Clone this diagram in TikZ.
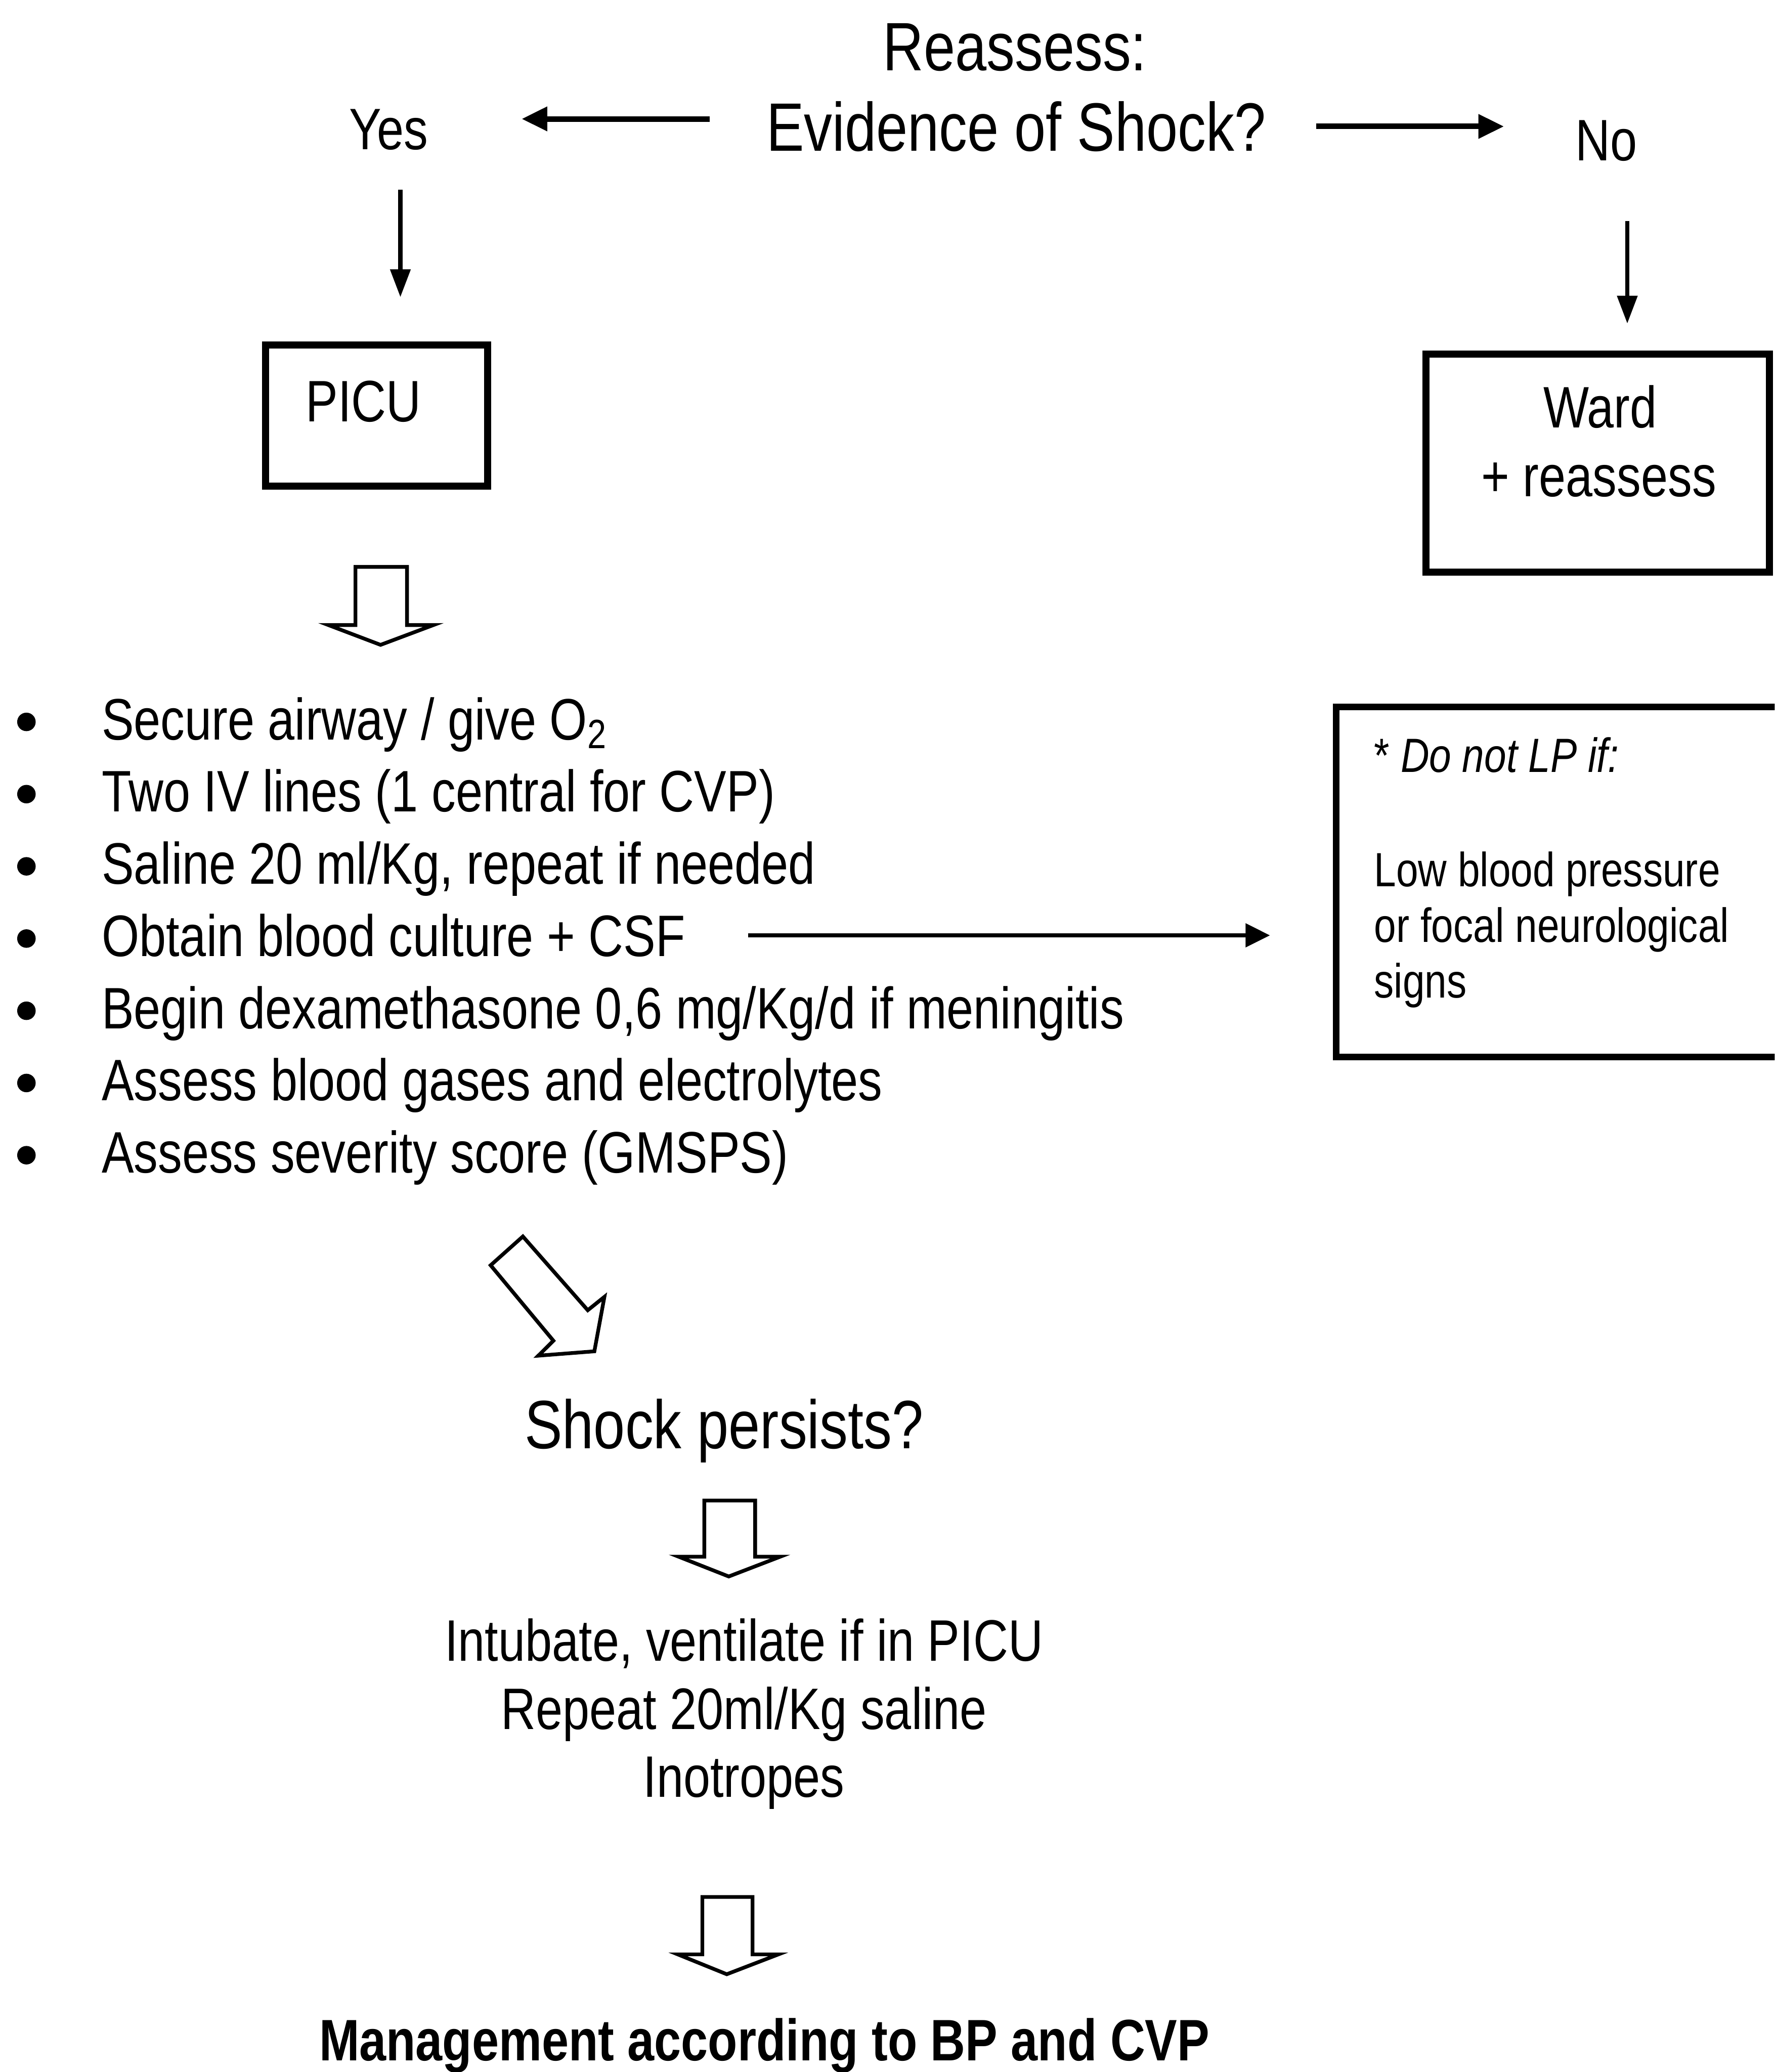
\documentclass[tikz,border=0pt]{standalone}
\usepackage{fontspec}
\setmainfont{Liberation Sans}[FakeStretch=0.825]
\usetikzlibrary{arrows.meta}
\begin{document}
\begin{tikzpicture}[x=0.02cm,y=-0.02cm,
 tx/.style={inner sep=0pt, outer sep=0pt},
 ftitle/.style={font=\fontsize{29.5}{35}\selectfont},
 fmain/.style={font=\fontsize{25.2}{30}\selectfont},
 fnote/.style={font=\fontsize{20.7}{25}\selectfont},
 fbold/.style={font=\fontsize{25.2}{30}\selectfont\bfseries},
 bx/.style={draw, line width=3pt, inner sep=0pt},
 notebox/.style={draw, line width=2.8pt, inner sep=0pt},
 blockarr/.style={draw, line width=1.6pt, line join=miter, fill=white},
 toparr/.style={line width=2.4pt, -{Triangle[length=11pt,width=10pt]}},
 downarr/.style={line width=1.8pt, -{Triangle[length=12pt,width=8.5pt]}},
 sidearr/.style={line width=1.6pt, -{Triangle[length=10.5pt,width=10pt]}},
 bul/.style={circle, fill, inner sep=0pt, minimum size=0.28cm}]
\useasboundingbox (0,0) rectangle (1343,1568);
\clip (0,0) rectangle (1343,1568);
\fill[white] (0,0) rectangle (1343,1568);

% top question
\node[tx,ftitle,anchor=base] (reassess) at (768,53.5) {Reassess:};
\node[tx,ftitle,anchor=base] (ev) at (769,114.2) {Evidence of Shock?};
\node[tx,fmain,anchor=base] (yes) at (294,113.3) {Yes};
\node[tx,fmain,anchor=base] (no) at (1215.5,121.4) {No};

\draw[toparr, shorten <=0.86cm, shorten >=1.42cm] ([yshift=0.114cm]ev.west) -- ([yshift=0.114cm]ev.west -| yes.east);
\draw[toparr, shorten <=0.76cm, shorten >=1.08cm] (ev.east) -- (ev.east -| no.west);

% boxes
\node[bx, minimum width=3.36cm, minimum height=2.14cm] (picu) at (285,314.5) {};
\node[tx,fmain] (picut) at (275,304) {PICU};
\node[bx, minimum width=5.2cm, minimum height=3.3cm] (ward) at (1209,350.5) {};
\node[tx,fmain,anchor=base] (ward1) at (1211,323.8) {Ward};
\node[tx,fmain,anchor=base] (ward2) at (1210,375.8) {+ reassess};

\draw[downarr, shorten <=0.6cm, shorten >=0.67cm] ([xshift=0.18cm]yes.south) -- ([xshift=0.18cm]yes.south |- picu.north);
\draw[downarr, shorten <=0.91cm, shorten >=0.41cm] ([xshift=0.32cm]no.south) -- ([xshift=0.32cm]no.south |- ward.north);

% block arrow 1
\draw[blockarr] (269,429) -- (308,429) -- (308,473) -- (328,473) -- (288,488) -- (248.5,473) -- (269,473) -- cycle;

% bullets
\foreach \i/\t in {0/{Secure airway / give O\textsubscript{2}},1/{Two IV lines (1 central for CVP)},2/{Saline 20 ml/Kg, repeat if needed},3/{Obtain blood culture + CSF},4/{Begin dexamethasone 0,6 mg/Kg/d if meningitis},5/{Assess blood gases and electrolytes},6/{Assess severity score (GMSPS)}}{
  \node[bul] (b\i) at (20,546.3+54.65*\i) {};
  \node[tx,fmain,anchor=base west] (l\i) at (77,559.7+54.65*\i) {\t};
}

% note box
\node[notebox, minimum width=6.98cm, minimum height=5.3cm] (note) at (1185.5,667.5) {};
\node[tx,fnote,anchor=base west] (n1) at (1040,584.5) {* \textit{Do not LP if:}};
\node[tx,fnote,anchor=base west] (n2) at (1040,671) {Low blood pressure};
\node[tx,fnote,anchor=base west] (n3) at (1040,713) {or focal neurological};
\node[tx,fnote,anchor=base west] (n4) at (1040,755) {signs};

\draw[sidearr, shorten <=0.95cm, shorten >=0.95cm] (l3.east) -- (l3.east -| note.west);

% diagonal block arrow
\draw[blockarr] (395.7,935.7) -- (444.8,991.5) -- (457.4,981.4) -- (449.8,1022.6) -- (407.4,1025.9) -- (418.8,1014.6) -- (371.3,957.5) -- cycle;

\node[tx,ftitle,anchor=base] (persists) at (548,1096) {Shock persists?};

% block arrow 2
\draw[blockarr] (533,1135.5) -- (571.5,1135.5) -- (571.5,1178) -- (590.5,1178) -- (551.5,1193) -- (513.5,1178) -- (533,1178) -- cycle;

\node[tx,fmain,anchor=base] (int1) at (563,1257) {Intubate, ventilate if in PICU};
\node[tx,fmain,anchor=base] (int2) at (563,1308.5) {Repeat 20ml/Kg saline};
\node[tx,fmain,anchor=base] (int3) at (563,1360) {Inotropes};

% block arrow 3
\draw[blockarr] (531.5,1435.5) -- (569.5,1435.5) -- (569.5,1479) -- (589,1479) -- (550,1494) -- (513,1479) -- (531.5,1479) -- cycle;

\node[tx,fbold,anchor=base] (mgmt) at (578.5,1559.5) {Management according to BP and CVP};
\end{tikzpicture}
\end{document}
